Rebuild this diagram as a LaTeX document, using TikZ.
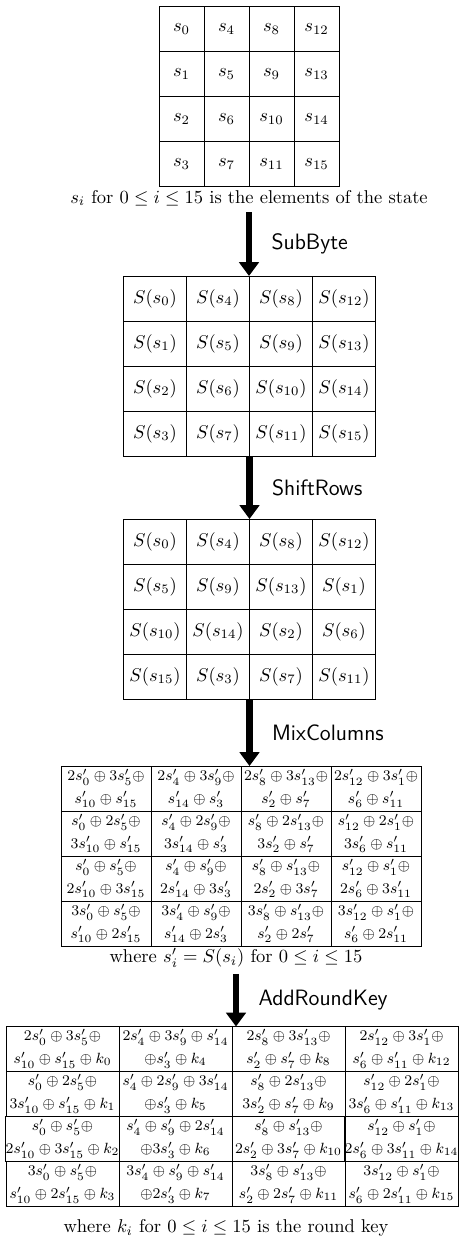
\documentclass[tikz,border=0pt]{standalone}
\usetikzlibrary{arrows.meta}

\tikzset{
  cell/.style={draw,line width=0.5pt,inner sep=0pt,outer sep=0pt,minimum height=45*0.54pt},
  smallcell/.style={cell,align=center,font=\fontsize{8.4}{12.2}\selectfont},
  flow/.style={line width=3.7pt,-{Triangle[width=10.5pt,length=7.5pt]}},
  steplabel/.style={midway,right=7pt,font=\large\sffamily}
}

\begin{document}
\begin{tikzpicture}[x=0.54pt,y=-0.54pt]
    \useasboundingbox (0,0) rectangle (459,1239);

    % the state
    \newcommand{\StX}{159}
    \newcommand{\StY}{6.5}
    \tikzset{stcell/.style={cell,minimum width=45*0.54pt}}
    \node[stcell] (st00) at (\StX+22.5,\StY+22.5) {$s_0$};
    \node[stcell] (st01) at (\StX+67.5,\StY+22.5) {$s_4$};
    \node[stcell] (st02) at (\StX+112.5,\StY+22.5) {$s_8$};
    \node[stcell] (st03) at (\StX+157.5,\StY+22.5) {$s_{12}$};
    \node[stcell] (st10) at (\StX+22.5,\StY+67.5) {$s_1$};
    \node[stcell] (st11) at (\StX+67.5,\StY+67.5) {$s_5$};
    \node[stcell] (st12) at (\StX+112.5,\StY+67.5) {$s_9$};
    \node[stcell] (st13) at (\StX+157.5,\StY+67.5) {$s_{13}$};
    \node[stcell] (st20) at (\StX+22.5,\StY+112.5) {$s_2$};
    \node[stcell] (st21) at (\StX+67.5,\StY+112.5) {$s_6$};
    \node[stcell] (st22) at (\StX+112.5,\StY+112.5) {$s_{10}$};
    \node[stcell] (st23) at (\StX+157.5,\StY+112.5) {$s_{14}$};
    \node[stcell] (st30) at (\StX+22.5,\StY+157.5) {$s_3$};
    \node[stcell] (st31) at (\StX+67.5,\StY+157.5) {$s_7$};
    \node[stcell] (st32) at (\StX+112.5,\StY+157.5) {$s_{11}$};
    \node[stcell] (st33) at (\StX+157.5,\StY+157.5) {$s_{15}$};
    \node (capst) at (249,198) {$s_i$ for $0 \leq i \leq 15$ is the elements of the state};

    % after SubByte
    \newcommand{\SbX}{123.5}
    \newcommand{\SbY}{276}
    \tikzset{sbcell/.style={cell,minimum width=63*0.54pt}}
    \node[sbcell] (sb00) at (\SbX+31.5,\SbY+22.5) {$S(s_0)$};
    \node[sbcell] (sb01) at (\SbX+94.5,\SbY+22.5) {$S(s_4)$};
    \node[sbcell] (sb02) at (\SbX+157.5,\SbY+22.5) {$S(s_8)$};
    \node[sbcell] (sb03) at (\SbX+220.5,\SbY+22.5) {$S(s_{12})$};
    \node[sbcell] (sb10) at (\SbX+31.5,\SbY+67.5) {$S(s_1)$};
    \node[sbcell] (sb11) at (\SbX+94.5,\SbY+67.5) {$S(s_5)$};
    \node[sbcell] (sb12) at (\SbX+157.5,\SbY+67.5) {$S(s_9)$};
    \node[sbcell] (sb13) at (\SbX+220.5,\SbY+67.5) {$S(s_{13})$};
    \node[sbcell] (sb20) at (\SbX+31.5,\SbY+112.5) {$S(s_2)$};
    \node[sbcell] (sb21) at (\SbX+94.5,\SbY+112.5) {$S(s_6)$};
    \node[sbcell] (sb22) at (\SbX+157.5,\SbY+112.5) {$S(s_{10})$};
    \node[sbcell] (sb23) at (\SbX+220.5,\SbY+112.5) {$S(s_{14})$};
    \node[sbcell] (sb30) at (\SbX+31.5,\SbY+157.5) {$S(s_3)$};
    \node[sbcell] (sb31) at (\SbX+94.5,\SbY+157.5) {$S(s_7)$};
    \node[sbcell] (sb32) at (\SbX+157.5,\SbY+157.5) {$S(s_{11})$};
    \node[sbcell] (sb33) at (\SbX+220.5,\SbY+157.5) {$S(s_{15})$};

    % after ShiftRows
    \newcommand{\SrX}{123.5}
    \newcommand{\SrY}{519}
    \node[sbcell] (sr00) at (\SrX+31.5,\SrY+22.5) {$S(s_0)$};
    \node[sbcell] (sr01) at (\SrX+94.5,\SrY+22.5) {$S(s_4)$};
    \node[sbcell] (sr02) at (\SrX+157.5,\SrY+22.5) {$S(s_8)$};
    \node[sbcell] (sr03) at (\SrX+220.5,\SrY+22.5) {$S(s_{12})$};
    \node[sbcell] (sr10) at (\SrX+31.5,\SrY+67.5) {$S(s_5)$};
    \node[sbcell] (sr11) at (\SrX+94.5,\SrY+67.5) {$S(s_9)$};
    \node[sbcell] (sr12) at (\SrX+157.5,\SrY+67.5) {$S(s_{13})$};
    \node[sbcell] (sr13) at (\SrX+220.5,\SrY+67.5) {$S(s_1)$};
    \node[sbcell] (sr20) at (\SrX+31.5,\SrY+112.5) {$S(s_{10})$};
    \node[sbcell] (sr21) at (\SrX+94.5,\SrY+112.5) {$S(s_{14})$};
    \node[sbcell] (sr22) at (\SrX+157.5,\SrY+112.5) {$S(s_2)$};
    \node[sbcell] (sr23) at (\SrX+220.5,\SrY+112.5) {$S(s_6)$};
    \node[sbcell] (sr30) at (\SrX+31.5,\SrY+157.5) {$S(s_{15})$};
    \node[sbcell] (sr31) at (\SrX+94.5,\SrY+157.5) {$S(s_3)$};
    \node[sbcell] (sr32) at (\SrX+157.5,\SrY+157.5) {$S(s_7)$};
    \node[sbcell] (sr33) at (\SrX+220.5,\SrY+157.5) {$S(s_{11})$};

    % after MixColumns
    \newcommand{\McX}{61}
    \newcommand{\McY}{766}
    \tikzset{mccell/.style={smallcell,minimum width=90*0.54pt}}
    \node[mccell] (mc00) at (\McX+45,\McY+22.5) {$2s'_0 \oplus 3s'_5\oplus$\\$s'_{10} \oplus s'_{15}$};
    \node[mccell] (mc01) at (\McX+135,\McY+22.5) {$2s'_4 \oplus 3s'_9\oplus$\\$s'_{14} \oplus s'_3$};
    \node[mccell] (mc02) at (\McX+225,\McY+22.5) {$2s'_8 \oplus 3s'_{13}\oplus$\\$s'_2 \oplus s'_7$};
    \node[mccell] (mc03) at (\McX+315,\McY+22.5) {$2s'_{12} \oplus 3s'_1\oplus$\\$s'_6 \oplus s'_{11}$};
    \node[mccell] (mc10) at (\McX+45,\McY+67.5) {$s'_0 \oplus 2s'_5\oplus$\\$3s'_{10} \oplus s'_{15}$};
    \node[mccell] (mc11) at (\McX+135,\McY+67.5) {$s'_4 \oplus 2s'_9\oplus$\\$3s'_{14} \oplus s'_3$};
    \node[mccell] (mc12) at (\McX+225,\McY+67.5) {$s'_8 \oplus 2s'_{13}\oplus$\\$3s'_2 \oplus s'_7$};
    \node[mccell] (mc13) at (\McX+315,\McY+67.5) {$s'_{12} \oplus 2s'_1\oplus$\\$3s'_6 \oplus s'_{11}$};
    \node[mccell] (mc20) at (\McX+45,\McY+112.5) {$s'_0 \oplus s'_5\oplus$\\$2s'_{10} \oplus 3s'_{15}$};
    \node[mccell] (mc21) at (\McX+135,\McY+112.5) {$s'_4 \oplus s'_9\oplus$\\$2s'_{14} \oplus 3s'_3$};
    \node[mccell] (mc22) at (\McX+225,\McY+112.5) {$s'_8 \oplus s'_{13}\oplus$\\$2s'_2 \oplus 3s'_7$};
    \node[mccell] (mc23) at (\McX+315,\McY+112.5) {$s'_{12} \oplus s'_1\oplus$\\$2s'_6 \oplus 3s'_{11}$};
    \node[mccell] (mc30) at (\McX+45,\McY+157.5) {$3s'_0 \oplus s'_5\oplus$\\$s'_{10} \oplus 2s'_{15}$};
    \node[mccell] (mc31) at (\McX+135,\McY+157.5) {$3s'_4 \oplus s'_9\oplus$\\$s'_{14} \oplus 2s'_3$};
    \node[mccell] (mc32) at (\McX+225,\McY+157.5) {$3s'_8 \oplus s'_{13}\oplus$\\$s'_2 \oplus 2s'_7$};
    \node[mccell] (mc33) at (\McX+315,\McY+157.5) {$3s'_{12} \oplus s'_1\oplus$\\$s'_6 \oplus 2s'_{11}$};
    \node (capmc) at (236,958) {where $s'_i = S(s_i)$ for $0 \leq i \leq 15$};

    % after AddRoundKey
    \newcommand{\ArkX}{6}
    \newcommand{\ArkY}{1026.5}
    \tikzset{arkcell/.style={smallcell,minimum width=113*0.54pt}}
    \node[arkcell] (ark00) at (\ArkX+56.5,\ArkY+22.5) {$2s'_0 \oplus 3s'_5\oplus$\\$s'_{10} \oplus s'_{15} \oplus k_0$};
    \node[arkcell] (ark01) at (\ArkX+169.5,\ArkY+22.5) {$2s'_4 \oplus 3s'_9 \oplus s'_{14}$\\$\oplus s'_3 \oplus k_4$};
    \node[arkcell] (ark02) at (\ArkX+282.5,\ArkY+22.5) {$2s'_8 \oplus 3s'_{13}\oplus$\\$s'_2 \oplus s'_7 \oplus k_8$};
    \node[arkcell] (ark03) at (\ArkX+395.5,\ArkY+22.5) {$2s'_{12} \oplus 3s'_1\oplus$\\$s'_6 \oplus s'_{11} \oplus k_{12}$};
    \node[arkcell] (ark10) at (\ArkX+56.5,\ArkY+67.5) {$s'_0 \oplus 2s'_5\oplus$\\$3s'_{10} \oplus s'_{15} \oplus k_1$};
    \node[arkcell] (ark11) at (\ArkX+169.5,\ArkY+67.5) {$s'_4 \oplus 2s'_9 \oplus 3s'_{14}$\\$\oplus s'_3 \oplus k_5$};
    \node[arkcell] (ark12) at (\ArkX+282.5,\ArkY+67.5) {$s'_8 \oplus 2s'_{13}\oplus$\\$3s'_2 \oplus s'_7 \oplus k_9$};
    \node[arkcell] (ark13) at (\ArkX+395.5,\ArkY+67.5) {$s'_{12} \oplus 2s'_1\oplus$\\$3s'_6 \oplus s'_{11} \oplus k_{13}$};
    \node[arkcell] (ark20) at (\ArkX+56.5,\ArkY+112.5) {$s'_0 \oplus s'_5\oplus$\\$2s'_{10} \oplus 3s'_{15} \oplus k_2$};
    \node[arkcell] (ark21) at (\ArkX+169.5,\ArkY+112.5) {$s'_4 \oplus s'_9 \oplus 2s'_{14}$\\$\oplus 3s'_3 \oplus k_6$};
    \node[arkcell] (ark22) at (\ArkX+282.5,\ArkY+112.5) {$s'_8 \oplus s'_{13}\oplus$\\$2s'_2 \oplus 3s'_7 \oplus k_{10}$};
    \node[arkcell] (ark23) at (\ArkX+395.5,\ArkY+112.5) {$s'_{12} \oplus s'_1\oplus$\\$2s'_6 \oplus 3s'_{11} \oplus k_{14}$};
    \node[arkcell] (ark30) at (\ArkX+56.5,\ArkY+157.5) {$3s'_0 \oplus s'_5\oplus$\\$s'_{10} \oplus 2s'_{15} \oplus k_3$};
    \node[arkcell] (ark31) at (\ArkX+169.5,\ArkY+157.5) {$3s'_4 \oplus s'_9 \oplus s'_{14}$\\$\oplus 2s'_3 \oplus k_7$};
    \node[arkcell] (ark32) at (\ArkX+282.5,\ArkY+157.5) {$3s'_8 \oplus s'_{13}\oplus$\\$s'_2 \oplus 2s'_7 \oplus k_{11}$};
    \node[arkcell] (ark33) at (\ArkX+395.5,\ArkY+157.5) {$3s'_{12} \oplus s'_1\oplus$\\$s'_6 \oplus 2s'_{11} \oplus k_{15}$};
    \node (capark) at (226,1228) {where $k_i$ for $0 \leq i \leq 15$ is the round key};

    % the rounds
    \draw[flow] (capst.south) -- (capst.south |- sb00.north) node[steplabel] {SubByte};
    \draw[flow] (sb31.south east) -- (sb31.south east |- sr00.north) node[steplabel] {ShiftRows};
    \draw[flow] (sr31.south east) -- (sr31.south east |- mc00.north) node[steplabel] {MixColumns};
    \draw[flow] (capmc.south) -- (capmc.south |- ark00.north) node[steplabel] {AddRoundKey};

  \end{tikzpicture}
\end{document}
